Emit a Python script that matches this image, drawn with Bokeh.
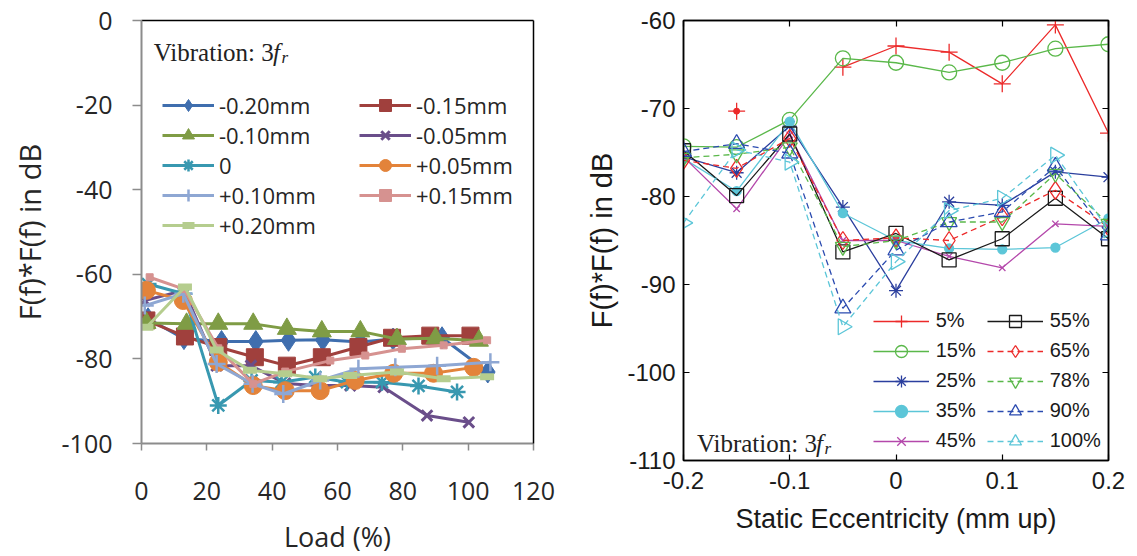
import numpy as np
from bokeh.plotting import figure
from bokeh.layouts import row
from bokeh.models import (Legend, LegendItem, LinearAxis, Label, FixedTicker,
                          CustomJSTickFormatter, Range1d)
from bokeh.embed import file_html
from bokeh.resources import INLINE

# ---------------- Left chart data (Load % vs dB) ----------------
left_names = ["-0.20mm", "-0.15mm", "-0.10mm", "-0.05mm", "0",
              "+0.05mm", "+0.10mm", "+0.15mm", "+0.20mm"]
load_m020 = [2, 13, 24.5, 35, 45, 55.5, 67, 77, 92, 106]
val_m020 = [-70.5, -75.2, -75.9, -75.9, -75.6, -75.5, -76.0, -75.3, -75.0, -83.1]
load_m015 = [1.5, 13.3, 23.5, 34.7, 44.5, 55.2, 66.4, 76.7, 88.4, 100.7]
val_m015 = [-70.9, -74.7, -77.2, -79.6, -81.6, -79.6, -77.2, -75.0, -74.5, -74.5]
load_m010 = [1.5, 13.8, 23.5, 34.2, 44.5, 55.2, 67, 78.2, 90, 103.3]
val_m010 = [-71.5, -71.7, -71.7, -71.7, -72.9, -73.5, -73.5, -75.3, -75.1, -75.7]
load_m005 = [1, 13, 23, 33.5, 44, 53.7, 63.9, 74.1, 87.4, 100.2]
val_m005 = [-66.2, -63.8, -81.6, -81.6, -85.8, -86.3, -86.3, -86.7, -93.4, -95.0]
load_z000 = [2, 13, 23.5, 33.7, 42.9, 53.2, 62.9, 73.6, 84.8, 96.6]
val_z000 = [-62.3, -64.6, -91.0, -85.1, -85.5, -84.3, -85.5, -85.5, -86.4, -87.8]
load_p005 = [1.5, 12.8, 23.5, 34.2, 44, 54.7, 65.4, 77.2, 89.4, 101.7]
val_p005 = [-63.8, -66.2, -80.8, -86.3, -87.5, -87.5, -85.1, -83.4, -83.4, -82.0]
load_p010 = [1, 12.8, 23, 34, 43.4, 54.7, 66.4, 77.7, 90.5, 106.8]
val_p010 = [-67.4, -64.6, -81.2, -85.9, -88.3, -85.1, -82.3, -82.0, -81.6, -80.8]
load_p015 = [2.5, 13, 23.5, 34.2, 44, 57.8, 68.5, 79.7, 92.5, 105.8]
val_p015 = [-60.7, -63.5, -77.5, -85.9, -83.0, -80.4, -79.2, -77.6, -76.8, -75.6]
load_p020 = [1.5, 13.3, 23, 33.2, 44, 54.7, 63.9, 78.2, 92.5, 105.8]
val_p020 = [-72.5, -63.0, -77.9, -82.7, -83.5, -84.7, -83.9, -83.1, -84.7, -84.2]

left_xticks = [0, 20, 40, 60, 80, 100, 120]
left_xlabels = ["0", "20", "40", "60", "80", "100", "120"]
left_yticks = [0, -20, -40, -60, -80, -100]
left_ylabels = ["0", "-20", "-40", "-60", "-80", "-100"]

# ---------------- Right chart data (Static eccentricity vs dB) ----------------
ecc = [-0.2, -0.15, -0.1, -0.05, 0.0, 0.05, 0.1, 0.15, 0.2]
right_names = ["5%", "15%", "25%", "35%", "45%", "55%", "65%", "78%", "90%", "100%"]
r05 = [np.nan, -70.3, np.nan, -65.3, -62.9, -63.6, -67.2, -60.5, -72.8]
r15 = [-74.3, -74.4, -71.3, -64.3, -64.8, -65.9, -64.8, -63.2, -62.7]
r25 = [-75.5, -77.3, -72.0, -81.2, -90.7, -80.6, -81.0, -77.2, -77.8]
r35 = [-75.7, -79.4, -71.5, -81.9, -85.0, -85.9, -86.0, -85.8, -82.5]
r45 = [-75.5, -81.4, -73.0, -85.0, -85.0, -86.8, -88.1, -83.1, -83.4]
r55 = [-74.8, -79.9, -72.9, -86.3, -84.2, -87.2, -84.8, -80.2, -84.8]
r65 = [-75.9, -76.8, -73.4, -85.0, -84.7, -85.0, -82.3, -79.3, -83.5]
r78 = [-75.6, -75.2, -74.4, -85.7, -85.0, -82.9, -82.9, -77.4, -83.1]
r90 = [-74.9, -74.0, -75.1, -92.7, -86.1, -82.9, -81.75, -76.6, -84.4]
r100 = [-83.0, -74.7, -76.1, -94.8, -87.4, -81.6, -80.2, -75.3, -83.8]

right_xticks = [-0.2, -0.1, 0.0, 0.1, 0.2]
right_xlabels = ["-0.2", "-0.1", "0", "0.1", "0.2"]
right_yticks = [-60, -70, -80, -90, -100, -110]
right_ylabels = ["-60", "-70", "-80", "-90", "-100", "-110"]

# ======================= LEFT FIGURE =======================
LFONT = "Open Sans"
p1 = figure(frame_width=392, frame_height=423, min_border_left=141, min_border_right=27,
            min_border_top=20, min_border_bottom=113,
            x_range=Range1d(0, 120), y_range=Range1d(-100, 0),
            output_backend="svg", toolbar_location=None)
p1.outline_line_color = None
p1.xgrid.visible = False
p1.ygrid.visible = False

for ax, ticks, labels in ((p1.xaxis[0], left_xticks, left_xlabels),
                          (p1.yaxis[0], left_yticks, left_ylabels)):
    ax.ticker = FixedTicker(ticks=ticks)
    ax.major_label_overrides = {t: l for t, l in zip(ticks, labels)}
    ax.axis_line_color = "#8c8c8c"
    ax.axis_line_width = 2
    ax.major_tick_line_color = "#8c8c8c"
    ax.major_tick_line_width = 1.5
    ax.major_tick_in = 0
    ax.minor_tick_line_color = None
    ax.major_label_text_font = LFONT
    ax.major_label_text_font_size = "25px"
    ax.major_label_text_color = "#262626"
    ax.axis_label_text_font = LFONT
    ax.axis_label_text_font_style = "normal"
    ax.axis_label_text_color = "#262626"

p1.xaxis.major_tick_out = 7
p1.xaxis.major_label_standoff = 31
p1.xaxis.axis_label = "Load (%)"
p1.xaxis.axis_label_text_font_size = "27px"
p1.xaxis.axis_label_standoff = 15
p1.yaxis.major_tick_out = 9
p1.yaxis.major_label_standoff = 20
p1.yaxis.axis_label = "F(f)*F(f) in dB"
p1.yaxis.axis_label_text_font_size = "29px"
p1.yaxis.axis_label_standoff = 10

for side in ("above", "right"):
    a = LinearAxis(ticker=FixedTicker(ticks=[]), axis_line_color="black", axis_line_width=1.5,
                   major_tick_line_color=None, minor_tick_line_color=None,
                   major_label_text_font_size="0px",
                   formatter=CustomJSTickFormatter(code="return ''"))
    p1.add_layout(a, side)

left_series = [
    (load_m020, val_m020, "#3f6eae", dict(marker="diamond", size=22)),
    (load_m015, val_m015, "#a0403d", dict(marker="square", size=17)),
    (load_m010, val_m010, "#7f9c45", dict(marker="triangle", size=19)),
    (load_m005, val_m005, "#6a4e8a", dict(marker="x", size=15, line_width=3)),
    (load_z000, val_z000, "#3898b0", dict(marker="asterisk", size=17, line_width=2.5)),
    (load_p005, val_p005, "#e3833a", dict(marker="circle", size=18)),
    (load_p010, val_p010, "#8ea7d3", dict(marker="cross", size=18, line_width=2.5)),
    (load_p015, val_p015, "#d69290", dict(marker="square", size=7)),
    (load_p020, val_p020, "#b5cd8e", dict(marker="dash", size=14, line_width=7)),
]
items1 = []
for name, (xs, ys, col, mk) in zip(left_names, left_series):
    lr = p1.line(xs, ys, line_color=col, line_width=3)
    kw = dict(mk)
    lw = kw.pop("line_width", 1)
    sr = p1.scatter(xs, ys, fill_color=col, line_color=col, line_width=lw, **kw)
    items1.append(LegendItem(label=name, renderers=[lr, sr]))

leg1 = Legend(items=items1, location=(21, 203), orientation="horizontal", ncols=2,
              label_text_font=LFONT, label_text_font_size="22px", label_text_color="#262626",
              glyph_width=52, glyph_height=30, label_height=30, label_width=140,
              label_standoff=5, spacing=0, padding=0, margin=0,
              border_line_color=None, background_fill_alpha=0)
p1.add_layout(leg1)

SERIF = "Liberation Serif"
p1.add_layout(Label(x=12.3, y=391, x_units="screen", y_units="screen", text="Vibration: 3",
                    text_font=SERIF, text_font_size="25px", text_baseline="alphabetic",
                    text_color="#222222"))
p1.add_layout(Label(x=131.5, y=391, x_units="screen", y_units="screen", text="f",
                    text_font=SERIF, text_font_size="25px", text_font_style="italic",
                    text_baseline="alphabetic", text_color="#222222"))
p1.add_layout(Label(x=140.0, y=386, x_units="screen", y_units="screen", text="r",
                    text_font=SERIF, text_font_size="17px", text_font_style="italic",
                    text_baseline="alphabetic", text_color="#222222"))

# ======================= RIGHT FIGURE =======================
RFONT = "Liberation Sans"
p2 = figure(frame_width=425, frame_height=440, min_border_left=123, min_border_right=29,
            min_border_top=20, min_border_bottom=96,
            x_range=Range1d(-0.2, 0.2), y_range=Range1d(-110, -60),
            output_backend="svg", toolbar_location=None)
p2.outline_line_color = "black"
p2.outline_line_width = 1.5
p2.xgrid.visible = False
p2.ygrid.visible = False

for ax, ticks, labels in ((p2.xaxis[0], right_xticks, right_xlabels),
                          (p2.yaxis[0], right_yticks, right_ylabels)):
    ax.ticker = FixedTicker(ticks=ticks)
    ax.major_label_overrides = {t: l for t, l in zip(ticks, labels)}
    ax.axis_line_color = "black"
    ax.axis_line_width = 1.5
    ax.major_tick_line_color = "black"
    ax.major_tick_line_width = 1.2
    ax.major_tick_in = 6
    ax.major_tick_out = 0
    ax.minor_tick_line_color = None
    ax.major_label_text_font = RFONT
    ax.major_label_text_font_size = "24px"
    ax.major_label_text_color = "#1a1a1a"
    ax.axis_label_text_font = RFONT
    ax.axis_label_text_font_style = "normal"
    ax.axis_label_text_color = "#1a1a1a"
p2.xaxis.major_label_standoff = 11
p2.xaxis.axis_label = "Static Eccentricity (mm up)"
p2.xaxis.axis_label_text_font_size = "27px"
p2.xaxis.axis_label_standoff = 12
p2.yaxis.major_label_standoff = 8
p2.yaxis.axis_label = "F(f)*F(f) in dB"
p2.yaxis.axis_label_text_font_size = "29px"
p2.yaxis.axis_label_standoff = 6

for side, ticks in (("above", right_xticks), ("right", right_yticks)):
    a = LinearAxis(ticker=FixedTicker(ticks=ticks), axis_line_color="black", axis_line_width=1.5,
                   major_tick_line_color="black", major_tick_line_width=1.2,
                   major_tick_in=6, major_tick_out=0, minor_tick_line_color=None,
                   major_label_text_font_size="0px",
                   formatter=CustomJSTickFormatter(code="return ''"))
    p2.add_layout(a, side)

RED, GRN, BLU, CYN, MAG, BLK = "#ec2a2a", "#5ab84a", "#2b3f9e", "#5cc6d8", "#b448ab", "#1a1a1a"
BLU2 = "#2b4bb0"
right_series = [
    (r05, RED, "solid", dict(marker="cross", size=17, fill=False)),
    (r15, GRN, "solid", dict(marker="circle", size=15, fill=False)),
    (r25, BLU, "solid", dict(marker="asterisk", size=14, fill=False)),
    (r35, CYN, "solid", dict(marker="circle", size=9, fill=True)),
    (r45, MAG, "solid", dict(marker="x", size=9, fill=False)),
    (r55, BLK, "solid", dict(marker="square", size=14, fill=False)),
    (r65, RED, "6 4", dict(marker="diamond", size=18, fill=False)),
    (r78, GRN, "6 4", dict(marker="inverted_triangle", size=15, fill=False)),
    (r90, BLU2, "6 4", dict(marker="triangle", size=16, fill=False)),
    (r100, CYN, "6 4", dict(marker="triangle", size=16, fill=False, angle=-np.pi / 2)),
]
items2 = []
for name, (ys, col, dash, mk) in zip(right_names, right_series):
    lr = p2.line(ecc, ys, line_color=col, line_width=1.3, line_dash=dash)
    kw = dict(mk)
    fill = kw.pop("fill")
    sr = p2.scatter(ecc, ys, line_color=col, line_width=1.3,
                    fill_color=col if fill else None, **kw)
    items2.append(LegendItem(label=name, renderers=[lr, sr]))

# isolated 5% point has a small filled dot in its centre
p2.scatter([ecc[1]], [r05[1]], marker="circle", size=6, fill_color=RED, line_color=RED)

leg2 = Legend(items=items2, location=(189.7, 4.3), orientation="vertical", ncols=2,
              label_text_font=RFONT, label_text_font_size="20px", label_text_color="#1a1a1a",
              glyph_width=56, glyph_height=30, label_height=30, label_width=51,
              label_standoff=7, spacing=0, padding=0, margin=0,
              border_line_color=None, background_fill_alpha=0)
p2.add_layout(leg2)

p2.add_layout(Label(x=13.4, y=17, x_units="screen", y_units="screen", text="Vibration: 3",
                    text_font=SERIF, text_font_size="25px", text_baseline="alphabetic",
                    text_color="#222222"))
p2.add_layout(Label(x=132.6, y=17, x_units="screen", y_units="screen", text="f",
                    text_font=SERIF, text_font_size="25px", text_font_style="italic",
                    text_baseline="alphabetic", text_color="#222222"))
p2.add_layout(Label(x=141.1, y=12, x_units="screen", y_units="screen", text="r",
                    text_font=SERIF, text_font_size="17px", text_font_style="italic",
                    text_baseline="alphabetic", text_color="#222222"))

layout = row(p1, p2, spacing=0)
open("out.html", "w").write(file_html(layout, INLINE))
